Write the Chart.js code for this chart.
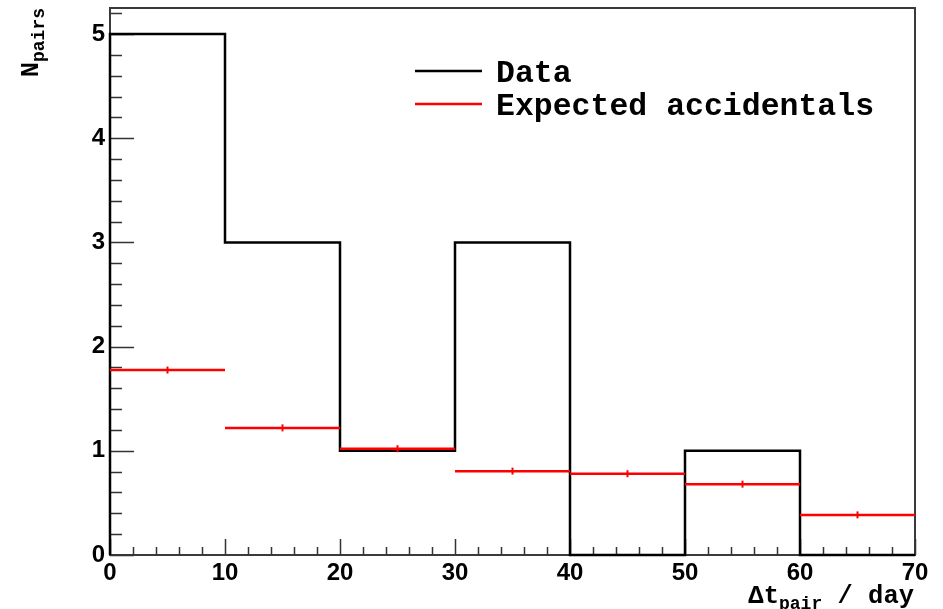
<!DOCTYPE html>
<html>
<head>
<meta charset="utf-8">
<script src="https://cdn.jsdelivr.net/npm/chart.js@4"></script>
<style>
  html, body { margin: 0; padding: 0; background: #fff; }
  #wrap { width: 943px; height: 609px; }
</style>
</head>
<body>
<div id="wrap"><canvas id="c" width="943" height="609"></canvas></div>
<script>
// ---- data ----
const binEdges = [0, 10, 20, 30, 40, 50, 60, 70];
const dataCounts = [5, 3, 1, 3, 0, 1, 0];
const expectedAccidentals = [1.775, 1.22, 1.02, 0.805, 0.78, 0.68, 0.385];
const xTickValues = [0, 10, 20, 30, 40, 50, 60, 70];
const yTickValues = [0, 1, 2, 3, 4, 5];
const xMinorStep = 2;
const yMinorStep = 0.2;
const legendLabels = ['Data', 'Expected accidentals'];

// ---- build datasets ----
const dataPts = [{x: binEdges[0], y: 0}];
dataCounts.forEach((v, i) => dataPts.push({x: binEdges[i], y: v}));
dataPts.push({x: binEdges[binEdges.length - 1], y: dataCounts[dataCounts.length - 1]});

const expPts = [];
const expCenters = [];
expectedAccidentals.forEach((v, i) => {
  const a = binEdges[i], b = binEdges[i + 1];
  expPts.push({x: a, y: v}, {x: b, y: v}, {x: (a + b) / 2, y: null});
  expCenters.push({x: (a + b) / 2, y: v});
});

const MONO = '"Liberation Mono", "Courier New", monospace';
const SANS = '"Liberation Sans", Arial, sans-serif';

const decor = {
  id: 'decor',
  beforeDatasetsDraw(chart) {
    const ctx = chart.ctx, a = chart.chartArea;
    const xs = chart.scales.x, ys = chart.scales.y;
    ctx.save();
    // frame
    ctx.strokeStyle = '#3a3a3a';
    ctx.lineWidth = 2;
    ctx.strokeRect(a.left, a.top, a.right - a.left, a.bottom - a.top);
    // x ticks
    ctx.strokeStyle = '#333';
    ctx.lineWidth = 1.5;
    ctx.beginPath();
    for (let v = xs.min; v <= xs.max + 1e-9; v += xMinorStep) {
      const px = Math.round(xs.getPixelForValue(v)) + 0.5;
      const major = xTickValues.some(t => Math.abs(t - v) < 1e-6);
      const len = major ? 16 : 8;
      ctx.moveTo(px, a.bottom);
      ctx.lineTo(px, a.bottom - len);
    }
    // y ticks
    for (let v = ys.min; v <= ys.max + 1e-9; v += yMinorStep) {
      const py = Math.round(ys.getPixelForValue(v)) + 0.5;
      const major = yTickValues.some(t => Math.abs(t - v) < 1e-6);
      const len = major ? 24 : 12;
      ctx.moveTo(a.left, py);
      ctx.lineTo(a.left + len, py);
    }
    ctx.stroke();
    ctx.restore();
  },
  afterDraw(chart) {
    const ctx = chart.ctx;
    ctx.save();
    ctx.fillStyle = '#000';
    ctx.textBaseline = 'alphabetic';
    // legend
    const legendRows = [
      {label: legendLabels[0], color: '#000', y: 71, base: 82},
      {label: legendLabels[1], color: '#ff0000', y: 104, base: 115}
    ];
    legendRows.forEach(r => {
      ctx.strokeStyle = r.color;
      ctx.lineWidth = 2.5;
      ctx.beginPath();
      ctx.moveTo(415, r.y); ctx.lineTo(482, r.y);
      ctx.stroke();
      ctx.fillStyle = '#000';
      ctx.font = 'bold 31.5px ' + MONO;
      ctx.textAlign = 'left';
      ctx.fillText(r.label, 496, r.base);
    });
    // x title: Δt_pair / day
    const mainF = 'bold 25.5px ' + MONO, subF = 'bold 18px ' + MONO;
    const parts = [
      {t: 'Δt', f: mainF, dy: 0},
      {t: 'pair', f: subF, dy: 6},
      {t: ' / day', f: mainF, dy: 0}
    ];
    let total = 0;
    parts.forEach(p => { ctx.font = p.f; p.w = ctx.measureText(p.t).width; total += p.w; });
    let x = 914 - total;
    ctx.textAlign = 'left';
    parts.forEach(p => { ctx.font = p.f; ctx.fillText(p.t, x, 603 + p.dy); x += p.w; });
    // y title: N_pairs (rotated)
    const yparts = [
      {t: 'N', f: mainF, dy: 0},
      {t: 'pairs', f: subF, dy: 6}
    ];
    let ytot = 0;
    yparts.forEach(p => { ctx.font = p.f; p.w = ctx.measureText(p.t).width; ytot += p.w; });
    ctx.translate(38, 8);
    ctx.rotate(-Math.PI / 2);
    let yx = -ytot;
    yparts.forEach(p => { ctx.font = p.f; ctx.fillText(p.t, yx, p.dy); yx += p.w; });
    ctx.restore();
  }
};

new Chart(document.getElementById('c'), {
  type: 'line',
  data: {
    datasets: [
      {
        label: legendLabels[1],
        data: expPts,
        borderColor: '#ff0000',
        borderWidth: 2.5,
        pointRadius: 0,
        spanGaps: false,
        clip: 4,
        order: 0
      },
      {
        label: 'errors',
        data: expCenters,
        showLine: false,
        pointStyle: 'line',
        rotation: 90,
        pointRadius: 3.5,
        borderColor: '#ff0000',
        borderWidth: 2,
        order: 0
      },
      {
        label: legendLabels[0],
        data: dataPts,
        stepped: 'before',
        borderColor: '#000',
        borderWidth: 2.5,
        pointRadius: 0,
        clip: 4,
        order: 1
      }
    ]
  },
  options: {
    responsive: false,
    animation: false,
    layout: { padding: { top: 8, right: 28, left: 0, bottom: 0 } },
    plugins: { legend: { display: false }, tooltip: { enabled: false } },
    scales: {
      x: {
        type: 'linear',
        min: 0, max: 70,
        grid: { display: false, drawTicks: false },
        border: { display: false },
        afterBuildTicks: s => { s.ticks = xTickValues.map(v => ({value: v})); },
        afterFit: s => { s.height = 54; s.paddingLeft = 0; s.paddingRight = 0; },
        ticks: {
          padding: 4,
          color: '#000',
          maxRotation: 0,
          autoSkip: false,
          font: { family: SANS, size: 24, weight: 'bold' }
        }
      },
      y: {
        min: 0, max: 5.25,
        grid: { display: false, drawTicks: false },
        border: { display: false },
        afterBuildTicks: s => { s.ticks = yTickValues.map(v => ({value: v})); },
        afterFit: s => { s.width = 110; s.paddingTop = 0; s.paddingBottom = 0; },
        ticks: {
          padding: 5,
          color: '#000',
          autoSkip: false,
          font: { family: SANS, size: 24, weight: 'bold' }
        }
      }
    }
  },
  plugins: [decor]
});
</script>
</body>
</html>
